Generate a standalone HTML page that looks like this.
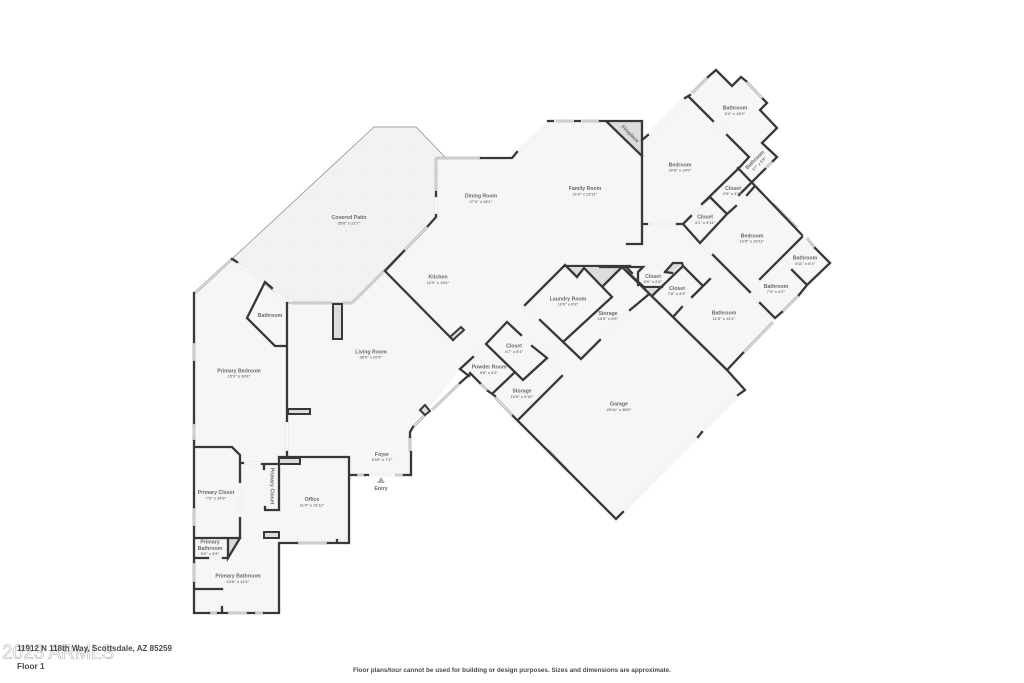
<!DOCTYPE html>
<html><head><meta charset="utf-8"><style>
html,body{margin:0;padding:0;background:#fff}
svg{display:block}
.w{fill:none;stroke:#383838;stroke-width:2.3;stroke-linejoin:miter;stroke-linecap:square}
.b{fill:#dcdcdc;stroke:#383838;stroke-width:2}
.l{font:bold 5.2px "Liberation Sans",sans-serif;fill:#6a6a6a;text-anchor:middle}
.s{font:bold 3.9px "Liberation Sans",sans-serif;fill:#7a7a7a;text-anchor:middle}
.f{font:bold 8.3px "Liberation Sans",sans-serif;fill:#4a4a4a}
</style></head><body>
<svg width="1024" height="683" viewBox="0 0 1024 683" xmlns="http://www.w3.org/2000/svg">
<defs>
<pattern id="dots" width="3" height="3" patternUnits="userSpaceOnUse"><rect width="3" height="3" fill="#f4f4f4"/><circle cx="1" cy="1" r=".55" fill="#e0e0e0"/><circle cx="2.5" cy="2.5" r=".4" fill="#e6e6e6"/></pattern>
<pattern id="g" width="2" height="2" patternUnits="userSpaceOnUse"><rect width="2" height="2" fill="#e2e2e2"/><circle cx="1" cy="1" r=".5" fill="#c4c4c4"/></pattern>
<g id="doors">
<path d="M233 260L265 283M273 289L287 303M287 421V452M243 463H262M240 482V518M208 558H223M368 475H395M436 196V215M517 152L550 121M645 138L685 98M647 224H677M713 121L727 135M691 216L702 204M736 206L747 195M700 243L713 255M722 267L710 279M692 297L682 307M750 292L760 303M782 260L792 270M600 340L630 310M525 305L540 320M521 335L532 346M486 344L473 357M547 360L562 376M563 342L547 358M623 512L698 437M702 432L738 396M643 268L638 272"/>
</g>
<g id="wins">
<path d="M195 293L232 259M194 342V362M194 423V441M194 507V527M194 562V583M209 613H218M228 613H247M254 613H264M297 543H328M356 475H365M395 475H404M410 437V452M292 303H332M342 303H352M352 303L383 272M404 251L428 226M436 158V190M438 158H481M556 121H573M582 121H599M692 93L708 77M746 81L763 99M773 161L765 169M773 204L797 228M807 238L815 248M799 295L782 312M773 322L743 353M480 383L488 391M495 397L513 416M548 450L568 471M432 410L460 383M425 415L413 427"/>
</g>
</defs>
<rect width="1024" height="683" fill="#fff"/>
<polygon fill="#f6f6f6" points="194,293 232,259 288,303 352,303 436,217 436,158 512,158 517,152 550,121 642,121 643,140 688,97 716,70 732,86 741,77 767,103 760,110 777,128 762,143 777,157 754,180 755,186 802,235 830,263 775,318 727,370 745,390 616,519 518,420 495,395 470,372 460,369 410,432 411,475 350,475 349,543 279,543 279,613 194,613"/>
<polygon fill="url(#dots)" stroke="#888" stroke-width=".7" points="233,258 374,127 416,127 445,157 436,158 436,217 352,303 288,303"/>
<polygon fill="url(#g)" points="607,122 642,122 642,156"/>
<polygon fill="url(#g)" points="584,268 621,268 603,285"/>
<polygon fill="url(#g)" points="570,268 584,268 577,276"/>
<polygon fill="url(#g)" points="645,289 658,289 651,296"/>
<polygon fill="url(#g)" points="672,273 682,264 673,264 665,272"/>
<polygon fill="url(#g)" points="229,539 239,539 229,556"/>
<use href="#doors" fill="none" stroke="#ddd" stroke-width="2.6"/>
<use href="#doors" fill="none" stroke="#fff" stroke-width="1.6"/>
<use href="#wins" fill="none" stroke="#b4b4b4" stroke-width="2.8"/>
<use href="#wins" fill="none" stroke="#e8e8e8" stroke-width="1"/>
<path class="w" d="M194 293V342M194 362V423M194 441V507M194 527V562M194 583V613H209M218 613H227M248 613H254M264 613H279V543H297M328 543H349V457H279V510H265V507M337 540V543M222 607V613M262 464H279M264 464V469M194 447H232L240 455V482M240 518V538H194M240 538L228 558V538M194 558H208M223 558H228M194 589H222M240 463H243"/>
<path class="w" d="M287 303V421M287 452V457M265 282L247 318L275 346H287M265 282L272 288M232 259L237 262M350 475H356M365 475H368M404 475H411V452"/>
<path class="w" d="M385 271L453 340M385 271L404 251M428 226L436 217V215M436 192V196M481 158H512L517 152M600 121H642V244H627M642 224H647M642 140L648 135M607 122L642 156M548 121H553M575 121H580"/>
<path class="w" d="M685 98L690 95M708 77L716 70L732 86L741 77L746 81M763 99L767 103L760 110L777 128L762 143L777 157L773 161M765 169L739 195M689 97L713 121M727 135L749 157L739 168L702 204M738 168L802 235M802 237L760 279M815 248L830 263L807 285L792 270M807 285L799 295M782 312L775 318M743 353L727 370L745 390L738 395M775 318L760 303M750 292L713 255M677 224H683L700 243L727 214L710 197M683 224L691 216M702 204L710 197M727 214L736 206M747 195L755 186"/>
<path class="w" d="M710 279L692 297M682 307L673 317M623 268L727 370M683 266L702 285M683 266L653 295M665 272L673 263H682L683 266M665 272L672 273M600 267H643L638 272V285M643 287H662M648 295L630 310M623 268L645 288"/>
<path class="w" d="M565 265L525 305M540 320L581 359L600 340M565 265L577 277L584 268L612 297L563 342M565 266H630M603 286L621 268M627 268L632 273"/>
<path class="w" d="M507 322L486 344L523 380L547 358L532 346M507 322L521 335M473 357L460 369L469 376M470 373L480 383M488 391L495 396M493 393L515 372M518 420L562 376M513 416L616 519L623 512M698 437L702 432"/>
<path class="w" d="M460 383L469 375M413 427L410 432V437"/>
<rect class="b" x="333" y="304" width="9" height="35"/>
<rect class="b" x="288" y="409" width="22" height="5"/>
<rect class="b" x="279" y="458" width="21" height="6"/>
<rect class="b" x="264" y="532" width="15" height="6"/>
<polygon class="b" points="453,340 464,330 461,327 450,337"/>
<polygon class="b" points="420,410 425,405 430,411 425,415"/>
<polygon fill="#b0b0b0" points="381,477 377,483 385,483"/>

<g>
<text class="l" x="349" y="219">Covered Patio</text><text class="s" x="349" y="224.500">35'8" x 21'7"</text>
<text class="l" x="481" y="197.500">Dining Room</text><text class="s" x="481" y="203">27'3" x 15'1"</text>
<text class="l" x="585" y="190">Family Room</text><text class="s" x="585" y="195.500">21'6" x 23'11"</text>
<text class="l" x="438" y="278.500">Kitchen</text><text class="s" x="438" y="284">12'0" x 15'0"</text>
<text class="l" x="371" y="353.500">Living Room</text><text class="s" x="371" y="358.500">38'8" x 20'5"</text>
<text class="l" x="270" y="317">Bathroom</text>
<text class="l" x="239" y="372.500">Primary Bedroom</text><text class="s" x="239" y="377.500">15'3" x 33'8"</text>
<text class="l" x="382" y="456">Foyer</text><text class="s" x="382" y="461">9'10" x 7'2"</text>
<text class="l" x="381" y="490">Entry</text>
<text class="l" x="216" y="494">Primary Closet</text><text class="s" x="216" y="499.500">7'3" x 14'9"</text>
<text class="l" transform="translate(270.500 486) rotate(90)">Primary Closet</text>
<text class="l" x="312" y="501">Office</text><text class="s" x="312" y="506.500">11'4" x 12'11"</text>
<text class="l" x="210" y="543.500">Primary</text><text class="l" x="210" y="550">Bathroom</text><text class="s" x="210" y="555">5'2" x 3'9"</text>
<text class="l" x="238" y="577.500">Primary Bathroom</text><text class="s" x="238" y="583">13'8" x 12'2"</text>
<text class="l" x="568" y="300.500">Laundry Room</text><text class="s" x="568" y="305.500">10'8" x 8'8"</text>
<text class="l" x="608" y="315">Storage</text><text class="s" x="608" y="320">15'3" x 5'6"</text>
<text class="l" x="514" y="347.500">Closet</text><text class="s" x="514" y="353">4'7" x 8'4"</text>
<text class="l" x="489" y="368.500">Powder Room</text><text class="s" x="489" y="374">5'8" x 4'2"</text>
<text class="l" x="522" y="392.500">Storage</text><text class="s" x="522" y="398">10'8" x 5'10"</text>
<text class="l" x="619" y="405.500">Garage</text><text class="s" x="619" y="411">29'11" x 38'6"</text>
<text class="l" x="653" y="278">Closet</text><text class="s" x="653" y="283">5'6" x 2'6"</text>
<text class="l" x="677" y="290">Closet</text><text class="s" x="677" y="295">7'8" x 4'3"</text>
<text class="l" x="724" y="314.500">Bathroom</text><text class="s" x="724" y="320">11'8" x 12'2"</text>
<text class="l" x="776" y="288">Bathroom</text><text class="s" x="776" y="293">7'3" x 4'2"</text>
<text class="l" x="805" y="259.500">Bathroom</text><text class="s" x="805" y="265">4'11" x 6'1"</text>
<text class="l" x="752" y="237.500">Bedroom</text><text class="s" x="752" y="242.500">12'8" x 10'11"</text>
<text class="l" x="705" y="218.500">Closet</text><text class="s" x="705" y="224">4'1" x 3'11"</text>
<text class="l" x="733" y="190">Closet</text><text class="s" x="733" y="195">4'5" x 3'10"</text>
<text class="l" x="680" y="166.500">Bedroom</text><text class="s" x="680" y="171.500">20'8" x 14'0"</text>
<text class="l" x="735" y="109.500">Bathroom</text><text class="s" x="735" y="115">8'2" x 13'9"</text>
<text class="l" transform="translate(756 161) rotate(-45)">Bathroom</text>
<text class="s" transform="translate(760 165) rotate(-45)">3'7" x 5'9"</text>
<text class="l" transform="translate(629 135) rotate(45)">Fireplace</text>
</g>

<text x="2" y="659" font-family="Liberation Sans, sans-serif" font-size="21" fill="none" stroke="#777" stroke-width=".35" textLength="112" lengthAdjust="spacingAndGlyphs">2023 ARMLS</text>
<text class="f" x="17" y="651" textLength="155" lengthAdjust="spacingAndGlyphs">11912 N 118th Way, Scottsdale, AZ 85259</text>
<text class="f" x="17" y="669">Floor 1</text>
<text x="353" y="672" font-family="Liberation Sans, sans-serif" font-weight="bold" font-size="6.3" fill="#4a4a4a" textLength="318" lengthAdjust="spacingAndGlyphs">Floor plans/tour cannot be used for building or design purposes. Sizes and dimensions are approximate.</text>
</svg>
</body></html>
